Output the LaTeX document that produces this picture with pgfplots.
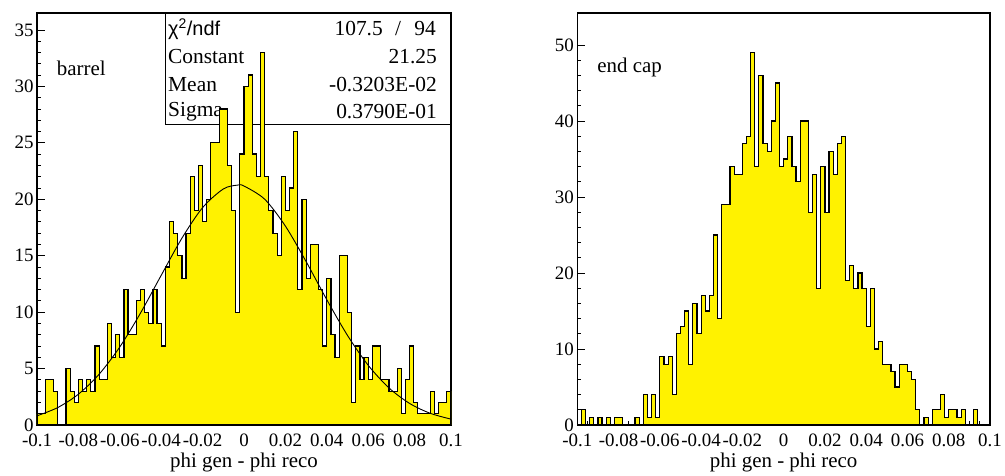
\documentclass[border=0pt]{standalone}
\usepackage{fontspec}
\setmainfont{Liberation Serif}
\newfontfamily\sansf{Liberation Sans}
\usepackage{pgfplots}
\usepackage{pgfplotstable}
\pgfplotsset{compat=1.18}

% barrel: left bin edge, entries (last row closes the last bin)
\pgfplotstableread{
x n
-0.100 1
-0.098 1
-0.096 4
-0.094 4
-0.092 3
-0.090 0
-0.088 0
-0.086 5
-0.084 3
-0.082 2
-0.080 4
-0.078 3
-0.076 4
-0.074 3
-0.072 7
-0.070 4
-0.068 4
-0.066 9
-0.064 6
-0.062 8
-0.060 6
-0.058 12
-0.056 8
-0.054 8
-0.052 11
-0.050 12
-0.048 10
-0.046 9
-0.044 12
-0.042 9
-0.040 7
-0.038 14
-0.036 18
-0.034 17
-0.032 15
-0.030 13
-0.028 17
-0.026 22
-0.024 19
-0.022 23
-0.020 18
-0.018 20
-0.016 25
-0.014 25
-0.012 28
-0.010 28
-0.008 23
-0.006 19
-0.004 10
-0.002 24
0.000 30
0.002 31
0.004 24
0.006 22
0.008 33
0.010 22
0.012 19
0.014 17
0.016 15
0.018 22
0.020 19
0.022 21
0.024 26
0.026 12
0.028 20
0.030 13
0.032 16
0.034 16
0.036 12
0.038 7
0.040 13
0.042 8
0.044 6
0.046 15
0.048 15
0.050 10
0.052 2
0.054 7
0.056 4
0.058 6
0.060 4
0.062 7
0.064 7
0.066 4
0.068 4
0.070 3
0.072 3
0.074 5
0.076 1
0.078 4
0.080 7
0.082 2
0.084 1
0.086 1
0.088 1
0.090 3
0.092 1
0.094 2
0.096 2
0.098 3
0.100 3
}\barrel

% end cap
\pgfplotstableread{
x n
-0.100 0
-0.098 2
-0.096 0
-0.094 1
-0.092 0
-0.090 1
-0.088 0
-0.086 1
-0.084 0
-0.082 1
-0.080 1
-0.078 0
-0.076 0
-0.074 0
-0.072 1
-0.070 0
-0.068 4
-0.066 1
-0.064 4
-0.062 1
-0.060 9
-0.058 8
-0.056 9
-0.054 4
-0.052 12
-0.050 13
-0.048 15
-0.046 8
-0.044 16
-0.042 12
-0.040 17
-0.038 15
-0.036 17
-0.034 25
-0.032 14
-0.030 29
-0.028 29
-0.026 34
-0.024 33
-0.022 33
-0.020 37
-0.018 38
-0.016 49
-0.014 34
-0.012 46
-0.010 37
-0.008 36
-0.006 40
-0.004 45
-0.002 34
0.000 35
0.002 38
0.004 34
0.006 32
0.008 40
0.010 40
0.012 28
0.014 33
0.016 18
0.018 34
0.020 28
0.022 36
0.024 33
0.026 37
0.028 38
0.030 19
0.032 21
0.034 18
0.036 20
0.038 18
0.040 13
0.042 18
0.044 10
0.046 11
0.048 8
0.050 8
0.052 7
0.054 5
0.056 8
0.058 8
0.060 7
0.062 6
0.064 2
0.066 0
0.068 1
0.070 0
0.072 2
0.074 2
0.076 4
0.078 1
0.080 2
0.082 2
0.084 1
0.086 2
0.088 0
0.090 0
0.092 2
0.094 0
0.096 0
0.098 0
0.100 0
}\endcap

\pgfplotsset{
  rootstyle/.style={
    scale only axis, anchor=south west,
    xmin=-0.1, xmax=0.1, ymin=0,
    xtick={-0.1,-0.08,-0.06,-0.04,-0.02,0,0.02,0.04,0.06,0.08,0.1},
    xticklabels={-0.1,-0.08,-0.06,-0.04,-0.02,0,0.02,0.04,0.06,0.08,0.1},
    scaled x ticks=false,
    minor x tick num=3,
    minor y tick num=4,
    tick align=inside, tick pos=left,
    major tick length=8bp, minor tick length=4bp,
    every tick/.style={black, line width=0.8bp},
    axis line style={line width=1.2bp},
    /pgf/number format/assume math mode=true,
    tick label style={font=\fontsize{19}{19}\selectfont},
    xticklabel style={yshift=-5bp},
    label style={font=\fontsize{21}{21}\selectfont},
    xlabel={phi gen - phi reco},
  },
  histo/.style={const plot, fill=yellow, draw=black, line width=1.2bp},
}

\begin{document}
\begin{tikzpicture}
\path[use as bounding box] (0bp,0bp) rectangle (1005bp,476bp);
% statistics box (drawn first, the histogram covers it)
\draw[line width=1bp] (165bp,351bp) rectangle (451bp,463bp);
\begin{scope}[every node/.style={font=\fontsize{21.5}{21.5}\selectfont, inner sep=0pt}]
\node[anchor=west] at (168bp,447bp) {\sansf\fontsize{20}{20}\selectfont χ\textsuperscript{2}/ndf};
\node[anchor=east] at (383bp,447bp) {107.5};
\node at (398bp,447bp) {/};
\node[anchor=east] at (436bp,447bp) {94};
\node[anchor=west] at (168bp,419bp) {Constant};
\node[anchor=east] at (437bp,419bp) {21.25};
\node[anchor=west] at (168bp,391bp) {Mean};
\node[anchor=east] at (437bp,391bp) {-0.3203E-02};
\node[anchor=west] at (168bp,364bp) {Sigma};
\node[anchor=east] at (437bp,364bp) {0.3790E-01};
\end{scope}

\begin{axis}[rootstyle, at={(37bp,51bp)}, width=414bp, height=412bp,
  ymax=36.5, ytick={0,5,10,15,20,25,30,35}]
\addplot[histo] table[x=x,y=n]{\barrel} \closedcycle;
\addplot[black, line width=0.9bp, smooth] coordinates {
(-0.100,0.814) (-0.090,1.543) (-0.080,2.729) (-0.070,4.497) (-0.060,6.913)
(-0.050,9.916) (-0.040,13.26) (-0.030,16.55) (-0.020,19.26) (-0.010,20.91)
(-0.0032,21.25) (0.000,21.17) (0.010,20.00) (0.020,17.62) (0.030,14.48)
(0.040,11.10) (0.050,7.935) (0.060,5.291) (0.070,3.292) (0.080,1.910)
(0.090,1.033) (0.100,0.521)};
\node[anchor=west, inner sep=0pt, font=\fontsize{21}{21}\selectfont] at (axis cs:-0.0905,31.6) {barrel};
\end{axis}

\begin{axis}[rootstyle, at={(577.3bp,51bp)}, width=412.7bp, height=412bp,
  ymax=54.2, ytick={0,10,20,30,40,50}]
\addplot[histo] table[x=x,y=n]{\endcap} \closedcycle;
\node[anchor=west, inner sep=0pt, font=\fontsize{21}{21}\selectfont] at (axis cs:-0.0904,47) {end cap};
\end{axis}
\end{tikzpicture}
\end{document}
